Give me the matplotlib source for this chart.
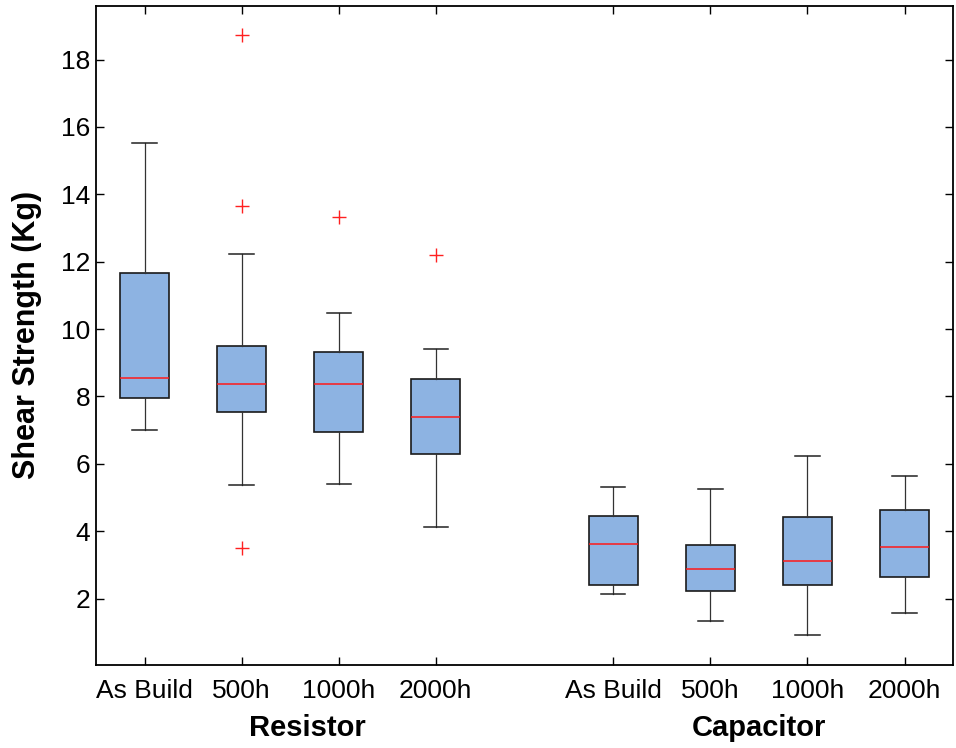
import matplotlib
matplotlib.use("Agg")
import matplotlib.pyplot as plt

plt.rcParams['font.family'] = ['Liberation Sans', 'DejaVu Sans']

# Shear strength summary statistics (Kg) per aging condition
conditions = ["As Build", "500h", "1000h", "2000h"]
groups = ["Resistor", "Capacitor"]

res_whislo = [7.00, 5.37, 5.40, 4.14]
res_q1 = [7.95, 7.55, 6.95, 6.29]
res_med = [8.54, 8.38, 8.38, 7.40]
res_q3 = [11.67, 9.49, 9.31, 8.51]
res_whishi = [15.51, 12.23, 10.48, 9.41]
res_fliers = [[], [18.73, 13.65, 3.50], [13.33], [12.19]]

cap_whislo = [2.13, 1.33, 0.93, 1.57]
cap_q1 = [2.40, 2.22, 2.40, 2.63]
cap_med = [3.62, 2.87, 3.12, 3.54]
cap_q3 = [4.46, 3.58, 4.41, 4.62]
cap_whishi = [5.32, 5.25, 6.24, 5.65]
cap_fliers = [[], [], [], []]

positions = [1, 2, 3, 4, 5.83, 6.83, 7.83, 8.83]


def make_stats(whislo, q1, med, q3, whishi, fliers):
    return [dict(whislo=a, q1=b, med=c, q3=d, whishi=e, fliers=f)
            for a, b, c, d, e, f in zip(whislo, q1, med, q3, whishi, fliers)]


stats = (make_stats(res_whislo, res_q1, res_med, res_q3, res_whishi, res_fliers)
         + make_stats(cap_whislo, cap_q1, cap_med, cap_q3, cap_whishi, cap_fliers))

fig = plt.figure(figsize=(9.56, 7.48), dpi=100)
ax = fig.add_axes([0.1004, 0.1110, 0.8965, 0.8814])

ax.bxp(stats, positions=positions, widths=0.5, patch_artist=True,
       showfliers=True,
       boxprops=dict(facecolor="#8db3e2", edgecolor="#1a1a1a", linewidth=1.2),
       medianprops=dict(color="#ff1a1a", linewidth=1.1),
       whiskerprops=dict(color="#333333", linewidth=0.9),
       capprops=dict(color="#222222", linewidth=1.1),
       flierprops=dict(marker="+", markeredgecolor="#ff2020", markersize=10,
                       markeredgewidth=1.0, linestyle="none"))

ax.set_xlim(0.5, 9.33)
ax.set_ylim(0.03, 19.6)
ax.set_yticks([2, 4, 6, 8, 10, 12, 14, 16, 18])
ax.set_xticks(positions)
ax.set_xticklabels(conditions + conditions)
ax.tick_params(axis="both", direction="in", length=6, width=1.0,
               labelsize=19, top=True, right=True)
ax.tick_params(axis="y", pad=4)
ax.tick_params(axis="x", pad=10)
for sp in ax.spines.values():
    sp.set_linewidth(1.3)

ax.set_ylabel("Shear Strength (Kg)", fontsize=22, fontweight="bold", labelpad=14)

# Group names beneath the condition labels
ax.text(2.68, -0.075, groups[0], transform=ax.get_xaxis_transform(),
        ha="center", va="top", fontsize=21, fontweight="bold")
ax.text(7.33, -0.075, groups[1], transform=ax.get_xaxis_transform(),
        ha="center", va="top", fontsize=21, fontweight="bold")

fig.savefig("out.png", dpi=100)
